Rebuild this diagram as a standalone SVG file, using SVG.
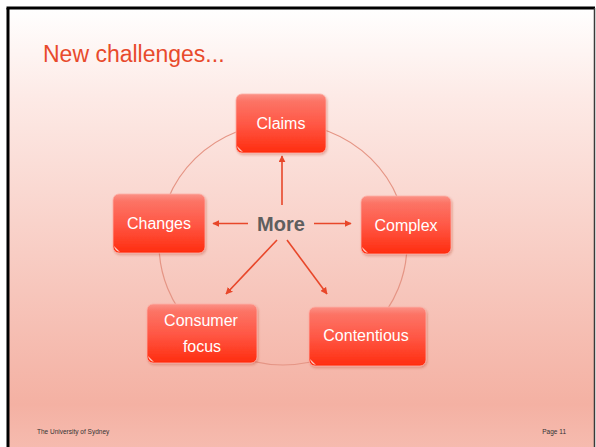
<svg xmlns="http://www.w3.org/2000/svg" width="596" height="447" viewBox="0 0 596 447">
<defs>
<linearGradient id="bg" x1="0" y1="0" x2="0" y2="1" gradientUnits="objectBoundingBox">
<stop offset="0" stop-color="#FFFFFF"/>
<stop offset="0.2" stop-color="#FDEAE6"/>
<stop offset="0.55" stop-color="#F8CDC4"/>
<stop offset="0.89" stop-color="#F4B1A3"/>
<stop offset="1" stop-color="#F6BCB0"/>
</linearGradient>
<linearGradient id="box" x1="0" y1="0" x2="0" y2="1">
<stop offset="0" stop-color="#FB9286"/>
<stop offset="0.12" stop-color="#FC7466"/>
<stop offset="0.5" stop-color="#FF5846"/>
<stop offset="1" stop-color="#FF2C0E"/>
</linearGradient>
<filter id="sh" x="-10%" y="-10%" width="125%" height="130%">
<feDropShadow dx="1" dy="1.5" stdDeviation="1.2" flood-color="#B03020" flood-opacity="0.35"/>
</filter>
<marker id="ah" viewBox="0 0 10 10" refX="9" refY="5" markerWidth="7" markerHeight="7" markerUnits="userSpaceOnUse" orient="auto">
<path d="M0,0 L10,5 L0,10 Z" fill="#E8472A"/>
</marker>
</defs>
<style>
.node rect.b{fill:url(#box);filter:url(#sh);stroke:#FFB0A6;stroke-width:0.8}
.node path.curl{fill:#FFE6E0;opacity:0.85}
.lbl{font-family:"Liberation Sans",Arial,sans-serif;font-size:16px;fill:#FFFFFF;text-anchor:middle}
.arr{stroke:#E8472A;stroke-width:1.6;fill:none;marker-end:url(#ah)}
</style>
<rect x="0" y="0" width="596" height="447" fill="#FFFFFF"/>
<rect x="8" y="8" width="586" height="445" fill="url(#bg)"/>
<line x1="8" y1="8" x2="8" y2="447" stroke="#000" stroke-width="3"/>
<line x1="6.5" y1="8" x2="595" y2="8" stroke="#000" stroke-width="3"/>
<line x1="594.5" y1="8" x2="594.5" y2="447" stroke="#3A3A3A" stroke-width="1.5"/>
<text x="43" y="62" font-family="'Liberation Sans',Arial,sans-serif" font-size="23" fill="#E84A2C">New challenges...</text>
<ellipse cx="283" cy="244" rx="124" ry="121" fill="none" stroke="#E59585" stroke-width="1.2"/>
<g id="connectors">
<line class="arr" x1="282" y1="205" x2="282" y2="156"/>
<line class="arr" x1="248" y1="223.5" x2="213" y2="223.5"/>
<line class="arr" x1="314" y1="223.5" x2="351" y2="223.5"/>
<line class="arr" x1="277" y1="240" x2="226" y2="294"/>
<line class="arr" x1="287" y1="240" x2="327" y2="294"/>
</g>
<text id="more" x="281" y="231" font-family="'Liberation Sans',Arial,sans-serif" font-size="20" font-weight="bold" fill="#5E5E5E" text-anchor="middle">More</text>
<g id="claims" class="node">
<rect class="b" x="236" y="94" width="90" height="59" rx="6"/>
<path class="curl" d="M237,146 q1,5 6,6 q-3,-3 -6,-6z"/>
<text class="lbl" x="281" y="129">Claims</text>
</g>
<g id="changes" class="node">
<rect class="b" x="113" y="194" width="92" height="59" rx="6"/>
<path class="curl" d="M114,246 q1,5 6,6 q-3,-3 -6,-6z"/>
<text class="lbl" x="159" y="229">Changes</text>
</g>
<g id="complex" class="node">
<rect class="b" x="361" y="196" width="90" height="58" rx="6"/>
<path class="curl" d="M362,247 q1,5 6,6 q-3,-3 -6,-6z"/>
<text class="lbl" x="406" y="231">Complex</text>
</g>
<g id="consumer" class="node">
<rect class="b" x="147" y="304" width="110" height="59" rx="6"/>
<path class="curl" d="M148,356 q1,5 6,6 q-3,-3 -6,-6z"/>
<text class="lbl" x="201" y="326">Consumer</text>
<text class="lbl" x="202" y="352">focus</text>
</g>
<g id="contentious" class="node">
<rect class="b" x="309" y="307" width="117" height="59" rx="6"/>
<path class="curl" d="M310,359 q1,5 6,6 q-3,-3 -6,-6z"/>
<text class="lbl" x="366" y="341">Contentious</text>
</g>
<text x="37" y="434" font-family="'Liberation Sans',Arial,sans-serif" font-size="6.5" fill="#333">The University of Sydney</text>
<text x="566" y="434" font-family="'Liberation Sans',Arial,sans-serif" font-size="6.5" fill="#333" text-anchor="end">Page 11</text>
</svg>
